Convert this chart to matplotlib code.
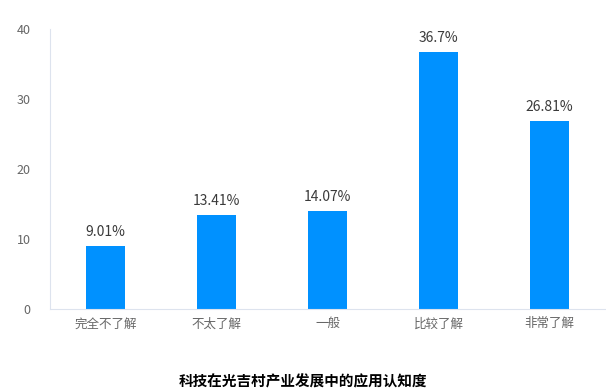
import matplotlib.pyplot as plt

plt.rcParams['font.family'] = ['Noto Sans CJK SC', 'DejaVu Sans']

categories = ['完全不了解', '不太了解', '一般', '比较了解', '非常了解']
values = [9.01, 13.41, 14.07, 36.7, 26.81]
labels = ['9.01%', '13.41%', '14.07%', '36.7%', '26.81%']
yticks = [0, 10, 20, 30, 40]

fig = plt.figure(figsize=(6.06, 3.91), dpi=100)
ax = fig.add_axes([50/606, 82/391, 555/606, 280/391])

x = range(len(categories))
ax.bar(x, values, width=0.36, color='#0091FF')
for i, v in enumerate(values):
    ax.text(i, v + 1.0, labels[i], ha='center', va='bottom', fontsize=10, color='#3a3a3a')

ax.set_xlim(-0.5, 4.5)
ax.set_ylim(0, 40)
ax.set_yticks(yticks)
ax.set_xticks(list(x))
ax.set_xticklabels(categories)
for s in ['top', 'right']:
    ax.spines[s].set_visible(False)
for s in ['left', 'bottom']:
    ax.spines[s].set_color('#DDE3EE')
ax.tick_params(length=0, labelsize=9, colors='#666666')
ax.tick_params(axis='y', pad=14)
ax.tick_params(axis='x', pad=6)

fig.text(0.5, 10/391, '科技在光吉村产业发展中的应用认知度', ha='center', va='center',
         fontsize=10.5, fontweight='bold', color='black')

fig.savefig('out.png', dpi=100)
